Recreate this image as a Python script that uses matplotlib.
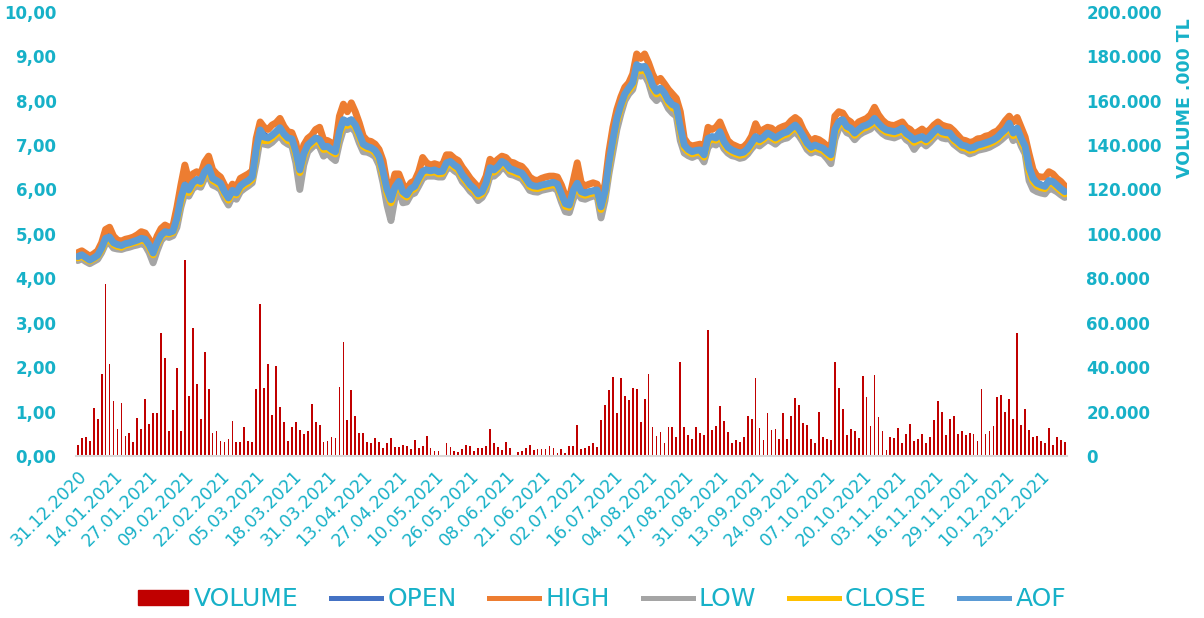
import matplotlib
matplotlib.use("Agg")
import matplotlib.pyplot as plt
from matplotlib.patches import Patch
from matplotlib.lines import Line2D
from matplotlib.ticker import FuncFormatter, MultipleLocator

tick_labels = ["31.12.2020", "14.01.2021", "27.01.2021", "09.02.2021", "22.02.2021", "05.03.2021",
               "18.03.2021", "31.03.2021", "13.04.2021", "27.04.2021", "10.05.2021", "26.05.2021",
               "08.06.2021", "21.06.2021", "02.07.2021", "16.07.2021", "04.08.2021", "17.08.2021",
               "31.08.2021", "13.09.2021", "24.09.2021", "07.10.2021", "20.10.2021", "03.11.2021",
               "16.11.2021", "29.11.2021", "10.12.2021", "23.12.2021"]

aof = [4.49,4.53,4.47,4.41,4.46,4.52,4.68,4.90,4.93,4.80,
       4.76,4.74,4.78,4.80,4.83,4.86,4.90,4.88,4.75,4.57,
       4.80,4.97,5.05,5.03,5.06,5.35,5.80,6.10,5.99,6.15,
       6.22,6.18,6.40,6.50,6.25,6.20,6.14,5.95,5.81,5.98,
       5.92,6.08,6.15,6.20,6.28,6.90,7.34,7.18,7.16,7.22,
       7.30,7.39,7.25,7.16,7.14,6.85,6.44,6.80,7.00,7.08,
       7.16,7.12,6.96,6.97,6.90,6.85,7.30,7.57,7.50,7.57,
       7.45,7.25,7.02,6.97,6.94,6.88,6.74,6.40,6.00,5.77,
       6.05,6.18,5.95,5.88,6.02,6.07,6.25,6.41,6.44,6.42,
       6.44,6.40,6.41,6.60,6.63,6.55,6.49,6.33,6.22,6.10,
       6.02,5.90,5.95,6.15,6.49,6.44,6.52,6.63,6.58,6.47,
       6.44,6.40,6.37,6.25,6.12,6.08,6.07,6.10,6.12,6.14,
       6.16,6.12,5.90,5.68,5.65,5.98,6.14,5.95,5.92,5.95,
       5.97,5.99,5.61,5.95,6.60,7.12,7.60,7.90,8.15,8.28,
       8.40,8.81,8.73,8.77,8.60,8.35,8.21,8.28,8.17,8.00,
       7.91,7.87,7.40,7.00,6.90,6.85,6.88,6.89,6.78,7.15,
       7.19,7.16,7.30,7.08,6.95,6.89,6.85,6.82,6.84,6.92,
       7.05,7.19,7.12,7.18,7.27,7.22,7.16,7.22,7.27,7.30,
       7.38,7.45,7.35,7.20,7.04,6.95,7.00,6.96,6.93,6.85,
       6.78,7.35,7.52,7.57,7.42,7.38,7.27,7.35,7.42,7.45,
       7.50,7.60,7.49,7.40,7.34,7.32,7.30,7.33,7.38,7.26,
       7.20,7.12,7.16,7.19,7.12,7.20,7.30,7.38,7.30,7.28,
       7.27,7.15,7.08,7.00,6.98,6.93,6.95,7.00,7.02,7.05,
       7.08,7.12,7.18,7.27,7.35,7.49,7.27,7.38,7.15,6.97,
       6.50,6.25,6.14,6.10,6.07,6.20,6.18,6.10,6.02,5.95]

high = [4.58,4.62,4.56,4.50,4.55,4.62,4.80,5.10,5.15,4.95,
        4.86,4.84,4.88,4.90,4.93,4.98,5.05,5.02,4.88,4.70,
        4.95,5.12,5.20,5.15,5.18,5.60,6.10,6.55,6.20,6.35,
        6.40,6.35,6.62,6.75,6.45,6.35,6.28,6.10,5.95,6.12,
        6.05,6.25,6.30,6.35,6.42,7.15,7.52,7.40,7.35,7.45,
        7.50,7.60,7.42,7.30,7.28,7.05,6.60,7.00,7.15,7.22,
        7.35,7.40,7.12,7.10,7.05,7.00,7.65,7.92,7.75,7.95,
        7.75,7.50,7.20,7.10,7.08,7.02,6.90,6.65,6.15,6.00,
        6.35,6.35,6.12,6.00,6.15,6.20,6.40,6.72,6.60,6.55,
        6.58,6.55,6.55,6.78,6.78,6.70,6.65,6.50,6.38,6.25,
        6.15,6.05,6.10,6.30,6.68,6.60,6.68,6.75,6.72,6.62,
        6.60,6.55,6.52,6.42,6.28,6.22,6.20,6.25,6.28,6.30,
        6.30,6.28,6.10,5.85,5.80,6.20,6.60,6.15,6.08,6.12,
        6.15,6.12,5.80,6.12,6.85,7.40,7.80,8.08,8.30,8.40,
        8.60,9.05,8.95,9.05,8.85,8.60,8.42,8.50,8.38,8.25,
        8.15,8.05,7.75,7.15,7.02,6.98,7.00,7.02,6.92,7.40,
        7.35,7.40,7.52,7.30,7.10,7.02,6.98,6.94,6.96,7.05,
        7.20,7.48,7.30,7.35,7.40,7.38,7.30,7.38,7.42,7.45,
        7.55,7.62,7.55,7.35,7.20,7.08,7.15,7.12,7.06,6.98,
        6.92,7.65,7.75,7.72,7.58,7.52,7.40,7.52,7.56,7.60,
        7.68,7.85,7.68,7.56,7.48,7.45,7.44,7.48,7.52,7.40,
        7.35,7.25,7.30,7.36,7.28,7.35,7.45,7.52,7.45,7.42,
        7.40,7.32,7.22,7.12,7.10,7.06,7.08,7.14,7.15,7.20,
        7.22,7.28,7.32,7.42,7.55,7.65,7.52,7.62,7.40,7.18,
        6.80,6.45,6.30,6.28,6.28,6.40,6.35,6.25,6.18,6.08]

low = [4.40,4.44,4.38,4.33,4.38,4.43,4.58,4.78,4.80,4.68,
       4.66,4.65,4.68,4.70,4.73,4.75,4.78,4.74,4.58,4.35,
       4.62,4.85,4.95,4.92,4.96,5.15,5.60,5.92,5.85,6.02,
       6.08,6.05,6.25,6.30,6.10,6.06,6.00,5.80,5.65,5.84,
       5.78,5.95,6.02,6.08,6.15,6.60,7.15,7.02,7.00,7.06,
       7.15,7.22,7.08,7.02,6.98,6.60,6.00,6.55,6.85,6.94,
       7.02,6.96,6.75,6.82,6.72,6.65,7.05,7.35,7.35,7.40,
       7.30,7.05,6.85,6.84,6.80,6.74,6.55,6.15,5.65,5.30,
       5.80,6.00,5.70,5.72,5.88,5.92,6.08,6.25,6.30,6.30,
       6.30,6.28,6.28,6.45,6.50,6.42,6.36,6.18,6.08,5.96,
       5.88,5.75,5.82,5.98,6.30,6.30,6.38,6.50,6.45,6.34,
       6.32,6.28,6.24,6.12,5.98,5.95,5.94,5.98,6.00,6.02,
       6.04,5.98,5.72,5.50,5.48,5.78,5.98,5.80,5.78,5.82,
       5.85,5.86,5.36,5.75,6.35,6.85,7.35,7.70,8.00,8.15,
       8.25,8.62,8.55,8.58,8.40,8.10,8.00,8.10,8.00,7.82,
       7.72,7.65,7.10,6.82,6.76,6.72,6.76,6.76,6.62,6.95,
       7.04,7.00,7.12,6.92,6.82,6.76,6.74,6.70,6.72,6.80,
       6.92,7.02,6.98,7.05,7.12,7.08,7.02,7.10,7.14,7.16,
       7.24,7.30,7.20,7.06,6.90,6.82,6.86,6.83,6.80,6.70,
       6.58,7.12,7.38,7.42,7.28,7.24,7.12,7.22,7.28,7.32,
       7.36,7.46,7.35,7.26,7.20,7.18,7.16,7.20,7.24,7.12,
       7.06,6.90,7.02,7.06,6.98,7.06,7.16,7.24,7.16,7.14,
       7.14,7.02,6.95,6.88,6.86,6.80,6.83,6.88,6.90,6.92,
       6.95,7.00,7.05,7.12,7.20,7.32,7.10,7.22,6.98,6.80,
       6.20,6.00,5.95,5.92,5.90,6.02,6.00,5.95,5.88,5.82]

close = [4.46,4.50,4.44,4.39,4.44,4.50,4.64,4.85,4.88,4.76,
         4.72,4.70,4.75,4.77,4.80,4.82,4.86,4.84,4.70,4.53,
         4.76,4.93,5.02,5.00,5.03,5.30,5.72,6.02,5.93,6.10,
         6.17,6.13,6.35,6.44,6.20,6.15,6.09,5.90,5.76,5.93,
         5.88,6.03,6.10,6.15,6.23,6.82,7.25,7.10,7.10,7.16,
         7.24,7.32,7.19,7.10,7.08,6.78,6.38,6.74,6.95,7.03,
         7.10,7.06,6.90,6.92,6.85,6.80,7.22,7.48,7.44,7.50,
         7.40,7.19,6.97,6.92,6.90,6.83,6.68,6.32,5.92,5.70,
         5.98,6.12,5.89,5.83,5.97,6.02,6.20,6.35,6.39,6.38,
         6.40,6.35,6.36,6.54,6.58,6.50,6.44,6.28,6.17,6.05,
         5.97,5.85,5.90,6.09,6.42,6.39,6.47,6.58,6.53,6.42,
         6.39,6.35,6.32,6.20,6.07,6.03,6.02,6.05,6.07,6.09,
         6.11,6.07,5.84,5.62,5.60,5.92,6.08,5.90,5.87,5.90,
         5.92,5.94,5.55,5.88,6.52,7.04,7.53,7.84,8.10,8.23,
         8.34,8.74,8.67,8.71,8.54,8.28,8.15,8.22,8.11,7.94,
         7.84,7.80,7.32,6.94,6.85,6.80,6.83,6.84,6.73,7.08,
         7.14,7.11,7.24,7.02,6.90,6.84,6.80,6.77,6.79,6.87,
         7.00,7.13,7.07,7.13,7.22,7.17,7.11,7.17,7.22,7.25,
         7.33,7.40,7.30,7.15,6.99,6.90,6.95,6.91,6.88,6.80,
         6.72,7.28,7.46,7.52,7.37,7.33,7.22,7.30,7.37,7.40,
         7.45,7.54,7.44,7.35,7.29,7.27,7.25,7.28,7.33,7.21,
         7.15,7.06,7.11,7.14,7.07,7.15,7.25,7.33,7.25,7.23,
         7.22,7.10,7.03,6.95,6.93,6.88,6.90,6.95,6.97,7.00,
         7.03,7.07,7.13,7.22,7.30,7.43,7.21,7.32,7.09,6.90,
         6.40,6.18,6.08,6.04,6.02,6.15,6.13,6.05,5.97,5.90]

open_ = [4.50,4.51,4.50,4.43,4.45,4.50,4.62,4.88,4.95,4.84,
         4.78,4.75,4.76,4.79,4.82,4.85,4.89,4.90,4.80,4.62,
         4.75,4.94,5.04,5.05,5.05,5.28,5.75,6.12,6.02,6.12,
         6.22,6.20,6.35,6.52,6.30,6.22,6.16,5.98,5.84,5.95,
         5.95,6.05,6.14,6.19,6.26,6.80,7.35,7.22,7.16,7.20,
         7.28,7.38,7.28,7.18,7.15,6.92,6.48,6.75,7.00,7.06,
         7.15,7.14,6.98,6.96,6.92,6.86,7.25,7.55,7.53,7.56,
         7.48,7.28,7.05,6.98,6.95,6.90,6.78,6.45,6.05,5.80,
         6.00,6.18,5.98,5.88,6.00,6.06,6.22,6.40,6.45,6.43,
         6.44,6.42,6.40,6.58,6.64,6.57,6.50,6.35,6.24,6.12,
         6.04,5.92,5.94,6.12,6.46,6.46,6.50,6.62,6.60,6.49,
         6.45,6.41,6.38,6.27,6.14,6.09,6.07,6.09,6.11,6.13,
         6.16,6.14,5.93,5.70,5.64,5.95,6.15,5.98,5.92,5.94,
         5.96,5.99,5.65,5.90,6.55,7.08,7.58,7.90,8.14,8.28,
         8.38,8.78,8.76,8.75,8.63,8.38,8.22,8.26,8.19,8.02,
         7.92,7.88,7.45,7.02,6.90,6.86,6.87,6.89,6.80,7.12,
         7.18,7.17,7.28,7.10,6.97,6.90,6.86,6.82,6.83,6.90,
         7.03,7.18,7.14,7.17,7.26,7.23,7.17,7.21,7.26,7.29,
         7.36,7.45,7.37,7.22,7.06,6.96,6.99,6.97,6.94,6.87,
         6.80,7.30,7.52,7.58,7.44,7.38,7.28,7.34,7.41,7.44,
         7.49,7.58,7.50,7.41,7.35,7.32,7.30,7.32,7.37,7.28,
         7.21,7.13,7.15,7.18,7.13,7.19,7.28,7.37,7.31,7.28,
         7.27,7.16,7.09,7.01,6.98,6.94,6.94,6.99,7.01,7.04,
         7.07,7.11,7.17,7.26,7.34,7.47,7.30,7.37,7.18,6.99,
         6.55,6.27,6.15,6.10,6.07,6.18,6.19,6.11,6.03,5.96]

volume = [5000,8000,8700,6600,21500,16800,37100,77500,41400,24800,
          12000,23900,9100,10400,6400,17100,12000,25800,14500,19400,
          19500,55300,44000,11300,20600,39800,11100,88300,26900,57800,
          32400,16800,47000,30200,10200,11300,6900,6300,7500,15800,
          6300,6300,12900,7000,6200,30200,68500,30600,41400,18600,
          40700,22200,15300,7000,13100,15300,11700,10100,11500,23400,
          15300,14000,6300,6800,8600,8000,31200,51200,16100,29600,
          18200,10200,10200,6300,5700,8000,6500,3500,5700,8200,
          3900,3900,4800,4400,3300,7200,3600,4500,9000,3600,
          2400,2400,200,5900,4200,2100,1700,3000,4900,4600,
          2400,3600,3600,4500,12200,5900,4200,2700,6500,3600,
          200,1700,2100,3600,4900,2700,3100,3400,3100,4500,
          3600,1300,3000,1200,4500,4500,14100,3300,3600,4500,
          5900,4000,16200,23100,29700,35400,19400,35100,26900,25200,
          30600,30300,15300,25500,36900,13100,9000,10700,6000,13200,
          13100,8600,42200,13300,9300,7800,12900,10200,9500,56800,
          11600,13500,22500,15600,10900,5900,7100,6500,8400,18200,
          16800,35100,12600,7200,19200,11700,12000,7700,19200,7700,
          17900,26000,22800,14700,14100,7700,6000,19700,8600,7800,
          7100,42200,30600,21000,9500,12200,11100,8100,35900,26600,
          13500,36300,17400,11400,2600,8700,8000,12800,5700,9800,
          14300,6800,7500,9800,5700,8700,16200,24600,19700,9300,
          16700,18200,9800,11100,9300,10200,9800,6800,30000,10000,
          11400,13400,26700,27300,19700,25500,16500,55300,13800,21300,
          11700,8400,9100,6900,5700,12800,4800,8600,7100,6300]

TEAL = "#17B1C8"
C_VOL = "#C00000"
C_OPEN = "#4472C4"
C_HIGH = "#ED7D31"
C_LOW = "#A5A5A5"
C_CLOSE = "#FFC000"
C_AOF = "#5B9BD5"

n = len(aof)
x = list(range(n))

fig = plt.figure(figsize=(12.04, 6.18), dpi=100)
ax = fig.add_axes([0.063, 0.262, 0.823, 0.719])
ax2 = ax.twinx()

ax2.bar(x, volume, width=0.45, color=C_VOL, zorder=2)
ax2.set_ylim(0, 200000)
ax2.yaxis.set_major_locator(MultipleLocator(20000))
ax2.yaxis.set_major_formatter(FuncFormatter(lambda v, p: f"{int(v):,}".replace(",", ".")))

lw = 5.0
for series, col in ((open_, C_OPEN), (high, C_HIGH), (low, C_LOW), (close, C_CLOSE), (aof, C_AOF)):
    ax.plot(x, series, color=col, lw=lw, solid_joinstyle="round", solid_capstyle="round")
ax.set_ylim(0, 10)
ax.yaxis.set_major_locator(MultipleLocator(1))
ax.yaxis.set_major_formatter(FuncFormatter(lambda v, p: f"{v:.2f}".replace(".", ",")))
ax.set_xlim(-0.5, n - 0.5)
ax.set_xticks(list(range(0, 9 * len(tick_labels), 9)))
ax.set_xticklabels(tick_labels, rotation=45, ha="right", va="top", rotation_mode="anchor",
                   color=TEAL, fontsize=12.5)

ax.set_zorder(ax2.get_zorder() + 1)
ax.patch.set_visible(False)

for a in (ax, ax2):
    for s in ("top", "left", "right"):
        a.spines[s].set_visible(False)
    a.spines["bottom"].set_color("#D9D9D9")
    a.spines["bottom"].set_linewidth(1.5)
    a.tick_params(length=0)
ax2.spines["bottom"].set_visible(False)

for lab in ax.get_yticklabels():
    lab.set_color(TEAL); lab.set_fontweight("bold"); lab.set_fontsize(12)
for lab in ax2.get_yticklabels():
    lab.set_color(TEAL); lab.set_fontweight("bold"); lab.set_fontsize(12)
ax.tick_params(axis="y", pad=14)
ax2.tick_params(axis="y", pad=14)
ax.tick_params(axis="x", pad=8)

fig.text(1185 / 1204, 1 - 98 / 618, "VOLUME .000 TL", rotation=90, color=TEAL,
         fontweight="bold", fontsize=12.5, ha="center", va="center")

handles = [Patch(facecolor=C_VOL, edgecolor=C_VOL),
           Line2D([0], [0], color=C_OPEN, lw=3.6),
           Line2D([0], [0], color=C_HIGH, lw=3.6),
           Line2D([0], [0], color=C_LOW, lw=3.6),
           Line2D([0], [0], color=C_CLOSE, lw=3.6),
           Line2D([0], [0], color=C_AOF, lw=3.6)]
labels = ["VOLUME", "OPEN", "HIGH", "LOW", "CLOSE", "AOF"]
leg = fig.legend(handles, labels, loc="center", bbox_to_anchor=(0.5, 1 - 599 / 618), ncol=6,
                 frameon=False, fontsize=18, handlelength=2.0, handleheight=0.55,
                 columnspacing=1.3, handletextpad=0.25)
for t in leg.get_texts():
    t.set_color(TEAL)

fig.savefig("out.png", dpi=100)
